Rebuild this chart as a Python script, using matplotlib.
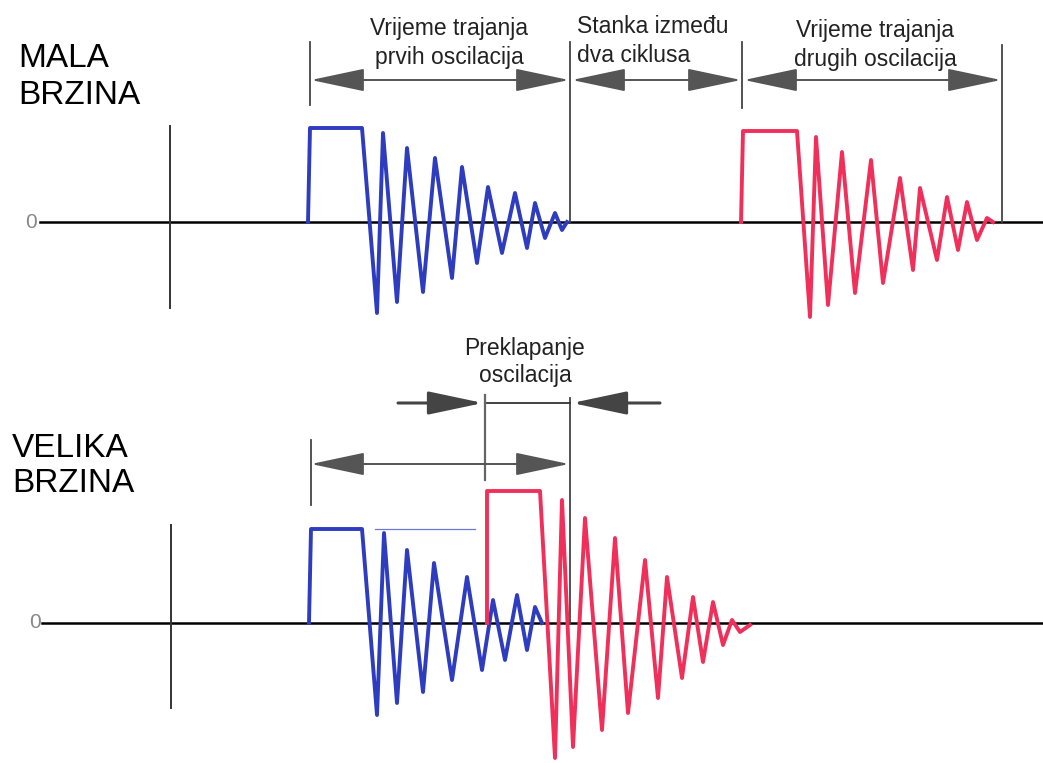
import matplotlib
matplotlib.use("Agg")
from matplotlib import pyplot as plt

plt.rcParams['font.family'] = ['Liberation Sans', 'DejaVu Sans']

# picture is in pixel units: x to the right, y downward
W, H = 1043, 763

# --- top panel (MALA BRZINA) ---
base_top = 222
blue_top_x = [308, 310, 362, 377, 383, 397, 407, 423, 435, 452, 462, 477, 488, 502, 515, 527, 535, 545, 555, 562, 567]
blue_top_y = [222, 128, 128, 313, 133, 302, 148, 292, 158, 278, 167, 263, 187, 253, 193, 248, 203, 238, 213, 230, 222]
red_top_x = [741, 743, 797, 810, 816, 828, 842, 855, 871, 883, 900, 913, 920, 937, 947, 958, 967, 977, 987, 993]
red_top_y = [222, 131, 131, 317, 137, 305, 152, 293, 160, 283, 178, 270, 188, 260, 197, 250, 202, 240, 218, 222]

# --- bottom panel (VELIKA BRZINA) ---
base_bot = 623
blue_bot_x = [309, 311, 362, 377, 384, 397, 407, 423, 434, 452, 467, 482, 493, 505, 517, 527, 535, 542]
blue_bot_y = [623, 529, 529, 715, 533, 703, 550, 692, 563, 680, 577, 670, 600, 660, 595, 650, 607, 623]
red_bot_x = [487, 487, 540, 555, 562, 573, 585, 602, 615, 628, 645, 658, 667, 682, 693, 703, 713, 723, 732, 740, 750]
red_bot_y = [623, 491, 491, 758, 500, 747, 518, 730, 538, 713, 560, 698, 577, 678, 597, 662, 602, 645, 620, 632, 625]

labels_speed = ["MALA\nBRZINA", "VELIKA\nBRZINA"]
labels_top = ["Vrijeme trajanja\nprvih oscilacija", "Stanka između\ndva ciklusa", "Vrijeme trajanja\ndrugih oscilacija"]
label_bot = "Preklapanje\noscilacija"

blue = '#2e3cc0'
red = '#f0305a'
gray = '#555555'

fig = plt.figure(figsize=(W / 100, H / 100), dpi=100)
ax = fig.add_axes([0, 0, 1, 1])
ax.set_xlim(0, W)
ax.set_ylim(H, 0)
ax.axis('off')

# axes of both panels
for base, x0, vx, vy0, vy1, zx in [(base_top, 40, 170, 126, 308, 31), (base_bot, 42, 171, 525, 708, 35)]:
    ax.plot([x0, W], [base, base], color='black', lw=1.8, zorder=1)
    ax.plot([vx, vx], [vy0, vy1], color='#333333', lw=1.4)
    ax.text(zx, base, "0", color='#888888', fontsize=15, ha='center', va='center')

# waveforms
ax.plot(blue_top_x, blue_top_y, color=blue, lw=2.8, zorder=3)
ax.plot(red_top_x, red_top_y, color=red, lw=2.8, zorder=3)
ax.plot(blue_bot_x, blue_bot_y, color=blue, lw=2.8, zorder=3)
ax.plot(red_bot_x, red_bot_y, color=red, lw=2.8, zorder=4)
ax.plot([375, 475], [529, 529], color='#6a78d8', lw=0.9)

# marker lines
ax.plot([310, 310], [42, 105], color='#444444', lw=1.3)
ax.plot([570, 570], [42, base_top], color='#444444', lw=1.3)
ax.plot([742, 742], [42, 108], color='#444444', lw=1.3)
ax.plot([1002, 1002], [45, base_top], color='#444444', lw=1.3)
ax.plot([311, 311], [440, 505], color='#444444', lw=1.3)
ax.plot([485, 485], [395, 480], color='#666666', lw=1.6)
ax.plot([570, 570], [398, 623], color='#444444', lw=1.3)
ax.plot([487, 570], [403, 403], color='#333333', lw=1.3)

arr = dict(arrowstyle='<|-|>,head_length=1.7,head_width=0.36', color=gray, lw=1.4,
           mutation_scale=20, shrinkA=0, shrinkB=0)
one = dict(arrowstyle='-|>,head_length=1.7,head_width=0.36', color='#444444', lw=2.2,
           mutation_scale=20, shrinkA=0, shrinkB=0)
for xa, xb in [(311, 569), (572, 741), (744, 1001)]:
    ax.annotate("", xy=(xb, 80), xytext=(xa, 80), arrowprops=arr)
ax.annotate("", xy=(311, 464), xytext=(569, 464), arrowprops=arr)
ax.annotate("", xy=(483, 403), xytext=(398, 403), arrowprops=one)
ax.annotate("", xy=(572, 403), xytext=(660, 403), arrowprops=one)

# texts
ax.text(18, 77, labels_speed[0], fontsize=24, ha='left', va='center', linespacing=1.25)
ax.text(12, 466, labels_speed[1], fontsize=24, ha='left', va='center', linespacing=1.2)
ax.text(449, 43, labels_top[0], fontsize=16.5, ha='center', va='center', color='#222222', linespacing=1.3)
ax.text(577, 41, labels_top[1], fontsize=16.5, ha='left', va='center', color='#222222', linespacing=1.3)
ax.text(875, 45, labels_top[2], fontsize=16.5, ha='center', va='center', color='#222222', linespacing=1.3)
ax.text(525, 362, label_bot, fontsize=16.5, ha='center', va='center', color='#222222', linespacing=1.2)

fig.savefig('out.png', dpi=100)
